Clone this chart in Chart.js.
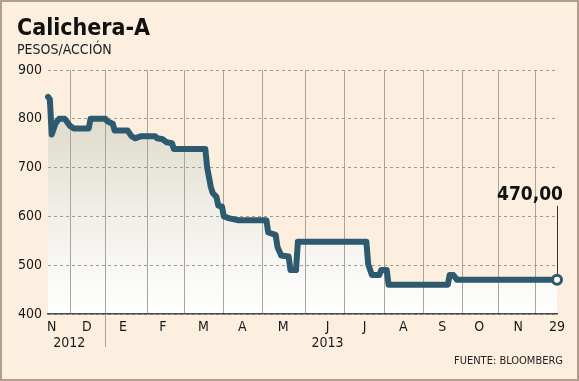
<!DOCTYPE html>
<html>
<head>
<meta charset="utf-8">
<script src="https://cdn.jsdelivr.net/npm/chart.js@4.4.1/dist/chart.umd.min.js"></script>
<style>
  html, body { margin: 0; padding: 0; }
  body { width: 579px; height: 381px; background: #fcefdf; position: relative; overflow: hidden;
         font-family: "DejaVu Sans Condensed", "DejaVu Sans", sans-serif; }
  #frame { position: absolute; left: 0; top: 0; width: 579px; height: 381px; box-sizing: border-box;
           border: 2px solid #b29e8c; pointer-events: none; }
  #chart { position: absolute; left: 0; top: 0; }
  .t { position: absolute; white-space: nowrap; color: #111; }
  #title { left: 17px; top: 12px; font-size: 23px; font-weight: bold; line-height: 30px; }
  #sub { left: 17px; top: 41px; font-size: 14px; line-height: 16px; color: #222; }
  #src { right: 16px; top: 354px; font-size: 11px; line-height: 14px; color: #222; }
</style>
</head>
<body>
<canvas id="chart" width="579" height="381"></canvas>
<div class="t" id="title">Calichera-A</div>
<div class="t" id="sub">PESOS/ACCIÓN</div>
<div class="t" id="src">FUENTE: BLOOMBERG</div>
<div id="frame"></div>
<script>
// ---- data (x = trading-day index from start of series) ----
const days   = [0, 1, 2, 4, 6, 9, 12, 14, 22, 23, 31, 32, 35, 36, 43, 45, 47, 50, 58, 59, 62, 64, 67, 68,
                85, 86, 88, 89, 91, 92, 94, 95, 98, 103, 118, 119, 123, 124, 126, 130, 131, 134, 135,
                172, 173, 175, 179, 180, 183, 184, 216, 217, 219, 221, 275];
const prices = [845, 840, 768, 790, 800, 800, 785, 780, 780, 800, 800, 795, 790, 776, 776, 765, 760, 764, 764, 760, 758, 752, 750, 738,
                738, 700, 660, 648, 640, 622, 620, 600, 596, 592, 592, 567, 562, 537, 520, 518, 490, 490, 548,
                548, 502, 480, 480, 490, 490, 460, 460, 480, 480, 470, 470];
const monthLabels   = ['N', 'D', 'E', 'F', 'M', 'A', 'M', 'J', 'J', 'A', 'S', 'O', 'N', '29'];
const monthTickDays = [2, 21, 40.5, 62, 84, 105, 127, 151, 171, 192, 213, 233, 254, 275];
const yearLabels    = ['2012', '2013'];
const yearTickDays  = [11.5, 151];
const gridDays      = [12.4, 30.8, 53.5, 73.5, 95, 116, 139, 160, 182, 203, 224, 243.6, 263.6];
const yearSplitDay  = 30.8;
const yTicks        = [400, 500, 600, 700, 800, 900];
const lastLabel     = '470,00';

const LINE = '#2e5a6f';
const FONT = '"DejaVu Sans Condensed", "DejaVu Sans", sans-serif';

// x tick list: month labels plus year labels as a second line
const xTicks = monthTickDays.map((d, i) => ({ value: d, label: monthLabels[i] }));
yearTickDays.forEach((d, i) => {
  const m = xTicks.find(t => Math.abs(t.value - d) < 0.01);
  if (m) m.label = [m.label, yearLabels[i]];
  else xTicks.push({ value: d, label: ['', yearLabels[i]] });
});
xTicks.sort((a, b) => a.value - b.value);

const last = days.length - 1;

const endLabel = {
  id: 'endLabel',
  afterDatasetsDraw(chart) {
    const { ctx, scales: { x, y, xg } } = chart;
    const px = x.getPixelForValue(days[last]);
    const py = y.getPixelForValue(prices[last]);
    ctx.save();
    ctx.strokeStyle = '#333';
    ctx.lineWidth = 1;
    ctx.beginPath();
    ctx.moveTo(px + 0.5, py - 6);
    ctx.lineTo(px + 0.5, py - 74);
    ctx.stroke();
    ctx.fillStyle = '#111';
    ctx.font = 'bold 19px ' + FONT;
    ctx.textAlign = 'right';
    ctx.textBaseline = 'alphabetic';
    ctx.fillText(lastLabel, px + 6, py - 80);
    // year separator extension
    const sx = Math.round(xg.getPixelForValue(yearSplitDay)) + 0.5;
    ctx.strokeStyle = '#aaa49b';
    ctx.beginPath();
    ctx.moveTo(sx, chart.chartArea.bottom);
    ctx.lineTo(sx, chart.chartArea.bottom + 33);
    ctx.stroke();
    ctx.restore();
  }
};

new Chart(document.getElementById('chart'), {
  type: 'line',
  data: {
    datasets: [{
      data: days.map((d, i) => ({ x: d, y: prices[i] })),
      borderColor: LINE,
      borderWidth: 6,
      borderJoinStyle: 'round',
      borderCapStyle: 'round',
      tension: 0,
      pointRadius: days.map((d, i) => i === last ? 4.5 : 0),
      pointHoverRadius: 0,
      pointBackgroundColor: '#ffffff',
      pointBorderColor: LINE,
      pointBorderWidth: 3,
      clip: false,
      fill: 'start',
      backgroundColor: (c) => {
        const ch = c.chart; const area = ch.chartArea;
        if (!area) return 'rgba(0,0,0,0)';
        const g = ch.ctx.createLinearGradient(0, area.top, 0, area.bottom);
        g.addColorStop(0, '#d6d2bb');
        g.addColorStop(0.55, '#eeede6');
        g.addColorStop(1, '#ffffff');
        return g;
      }
    }]
  },
  options: {
    responsive: false,
    animation: false,
    events: [],
    layout: { padding: { left: 0, top: 70, right: 22, bottom: 0 } },
    plugins: {
      legend: { display: false },
      tooltip: { enabled: false },
      filler: { drawTime: 'beforeDraw' }
    },
    scales: {
      x: {
        type: 'linear', position: 'bottom', min: 0, max: 275, weight: 1,
        grid: { display: false, drawTicks: false },
        border: { display: true, color: '#4a4a4a', width: 1.5 },
        afterBuildTicks: (s) => { s.ticks = xTicks.map(t => ({ value: t.value })); },
        ticks: {
          autoSkip: false, maxRotation: 0, padding: 6, color: '#1a1a1a',
          font: { family: FONT, size: 14, lineHeight: 1.1 },
          callback: (v, i) => xTicks[i].label
        },
        afterFit: (s) => { s.height = 67; }
      },
      xg: {
        type: 'linear', position: 'bottom', min: 0, max: 275, weight: 0,
        grid: { display: true, drawTicks: false, color: '#aaa49b', lineWidth: 1 },
        border: { display: false },
        afterBuildTicks: (s) => { s.ticks = gridDays.map(v => ({ value: v })); },
        ticks: { display: false },
        afterFit: (s) => { s.height = 0; }
      },
      y: {
        type: 'linear', min: 400, max: 900,
        afterBuildTicks: (s) => { s.ticks = yTicks.map(v => ({ value: v })); },
        grid: { color: '#a09a90', lineWidth: 1, drawTicks: false },
        border: { display: false, dash: [3, 3] },
        ticks: { padding: 6, color: '#1a1a1a', font: { family: FONT, size: 14 } },
        afterFit: (s) => { s.width = 48; }
      }
    }
  },
  plugins: [endLabel]
});
</script>
</body>
</html>
